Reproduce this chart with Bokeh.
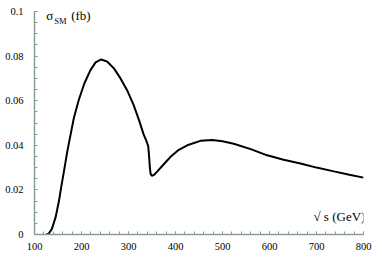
from bokeh.plotting import figure
from bokeh.models import Label, SingleIntervalTicker, NumeralTickFormatter, Range1d
from bokeh.embed import file_html
from bokeh.resources import INLINE

# sqrt(s) in GeV
sqrt_s = [125, 130, 137, 145, 152, 157, 164, 170, 177, 184, 194, 206, 219, 230,
          242, 255, 269, 283, 297, 311, 322, 332, 338, 342, 344, 345.5, 347, 350,
          354, 361, 375, 389, 407, 425, 453, 478, 500, 524, 560, 595, 630, 666,
          700, 737, 770, 800]
# sigma_SM in fb
sigma_sm = [0.0, 0.0003, 0.0025, 0.0078, 0.0150, 0.0215, 0.0300, 0.0375, 0.0450,
            0.0525, 0.0602, 0.0677, 0.0737, 0.0772, 0.0785, 0.0775, 0.0745,
            0.0700, 0.0647, 0.0580, 0.0515, 0.0450, 0.0420, 0.0395, 0.0345,
            0.0300, 0.0272, 0.0263, 0.0267, 0.0282, 0.0315, 0.0347, 0.0380,
            0.0400, 0.0420, 0.0424, 0.0418, 0.0407, 0.0383, 0.0355, 0.0335,
            0.0318, 0.0300, 0.0283, 0.0268, 0.0255]

x_ticks = [100, 200, 300, 400, 500, 600, 700, 800]
y_ticks = [0, 0.02, 0.04, 0.06, 0.08, 0.1]

FONT = "'Liberation Serif', serif"
AXIS_COLOR = "#8c9c96"

p = figure(width=378, height=258, output_backend="svg", toolbar_location=None,
           x_range=Range1d(100, 800), y_range=Range1d(0, 0.1),
           min_border_left=34, min_border_right=15, min_border_top=11,
           min_border_bottom=24)
p.outline_line_color = None
p.grid.visible = False
p.background_fill_color = "white"
p.border_fill_color = "white"

p.xaxis.ticker = SingleIntervalTicker(interval=100, num_minor_ticks=5)
p.yaxis.ticker = SingleIntervalTicker(interval=0.02, num_minor_ticks=4)
p.yaxis.formatter = NumeralTickFormatter(format="0.[00]")

for ax in (p.xaxis, p.yaxis):
    ax.axis_line_color = AXIS_COLOR
    ax.axis_line_width = 1.5
    ax.major_tick_line_color = AXIS_COLOR
    ax.minor_tick_line_color = AXIS_COLOR
    ax.major_tick_in = 3
    ax.major_tick_out = 0
    ax.minor_tick_in = 3
    ax.minor_tick_out = 0
    ax.major_label_text_font = FONT
    ax.major_label_text_font_size = "10.5px"
    ax.major_label_text_color = "black"

p.yaxis.major_label_standoff = 11
p.xaxis.major_label_standoff = 8

p.line(sqrt_s, sigma_sm, line_color="black", line_width=2)

p.add_layout(Label(x=125, y=0.0948, text="σ", text_font=FONT,
                   text_font_size="13px", text_color="black"))
p.add_layout(Label(x=142, y=0.0935, text="SM", text_font=FONT,
                   text_font_size="8.5px", text_color="black"))
p.add_layout(Label(x=178, y=0.0950, text="(fb)", text_font=FONT,
                   text_font_size="13px", text_color="black"))
p.add_layout(Label(x=804, y=0.0049, text="√ s (GeV)", text_font=FONT,
                   text_font_size="13px", text_color="black", text_align="right"))

open("out.html", "w").write(file_html(p, INLINE))
